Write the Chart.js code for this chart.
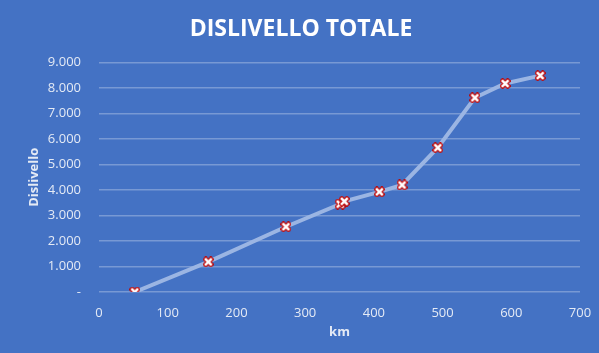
<!DOCTYPE html>
<html lang="it">
  <head>
    <meta charset="UTF-8" />
    <title>Dislivello totale</title>
    <script src="https://cdn.jsdelivr.net/npm/chart.js"></script>
    <style>
      html, body { margin: 0; padding: 0; background: #4472c4; }
      #wrap { width: 599px; height: 353px; }
    </style>
  </head>
  <body>
    <div id="wrap"><canvas id="myChart" width="599" height="353"></canvas></div>

    <script>
      // km percorsi e dislivello cumulato
      const km = [52, 159, 272, 351, 357, 408, 441, 493, 547, 591, 642];
      const dislivello = [0, 1180, 2560, 3450, 3560, 3930, 4200, 5660, 7620, 8180, 8490];
      const yTicks = [0, 1000, 2000, 3000, 4000, 5000, 6000, 7000, 8000, 9000];
      const xTicks = [0, 100, 200, 300, 400, 500, 600, 700];

      // marker: white cross with red outline
      function makeMarker() {
        const c = document.createElement("canvas");
        c.width = 11;
        c.height = 11;
        const g = c.getContext("2d");
        g.lineCap = "square";
        g.beginPath();
        g.moveTo(3, 3); g.lineTo(8, 8);
        g.moveTo(8, 3); g.lineTo(3, 8);
        g.strokeStyle = "#c00000";
        g.lineWidth = 5;
        g.stroke();
        g.strokeStyle = "#ffffff";
        g.lineWidth = 2.5;
        g.stroke();
        return c;
      }

      const fmt = (v) => v === 0 ? "-" : String(v).replace(/\B(?=(\d{3})+(?!\d))/g, ".");

      const points = km.map((k, i) => ({ x: k, y: dislivello[i] }));
      const tickColor = "#e4eaf5";
      const ctx = document.getElementById("myChart").getContext("2d");

      new Chart(ctx, {
        type: "line",
        data: {
          datasets: [
            {
              label: "Dislivello",
              data: points,
              borderColor: "#9bb5e3",
              borderWidth: 4,
              pointStyle: makeMarker(),
              tension: 0,
            },
          ],
        },
        options: {
          responsive: false,
          animation: false,
          layout: { padding: { left: 22, right: 19, top: 0, bottom: 9 } },
          plugins: {
            legend: { display: false },
            tooltip: { enabled: false },
            title: {
              display: true,
              text: "DISLIVELLO TOTALE",
              color: "#ffffff",
              font: { family: "Open Sans", size: 23, weight: "bold" },
              padding: { top: 16, bottom: 19 },
            },
          },
          scales: {
            x: {
              type: "linear",
              min: 0,
              max: 700,
              afterBuildTicks: (s) => { s.ticks = xTicks.map((v) => ({ value: v })); },
              grid: { display: false },
              border: { display: false },
              ticks: { color: tickColor, font: { family: "Open Sans", size: 13 }, padding: 5 },
              title: {
                display: true,
                text: "km",
                color: tickColor,
                font: { family: "Open Sans", size: 13, weight: "bold" },
                padding: { top: 2 },
              },
              afterFit: (s) => { s.height = 52; },
            },
            y: {
              min: 0,
              max: 9000,
              afterBuildTicks: (s) => { s.ticks = yTicks.map((v) => ({ value: v })); },
              grid: { color: "rgba(255,255,255,0.28)", lineWidth: 1.5, drawTicks: false },
              border: { display: false },
              ticks: {
                color: tickColor,
                font: { family: "Open Sans", size: 13 },
                padding: 18,
                callback: (v) => fmt(v),
              },
              title: {
                display: true,
                text: "Dislivello",
                color: tickColor,
                font: { family: "Open Sans", size: 13, weight: "bold" },
                padding: { bottom: 6 },
              },
              afterFit: (s) => { s.width = 77; },
            },
          },
        },
      });
    </script>
  </body>
</html>
